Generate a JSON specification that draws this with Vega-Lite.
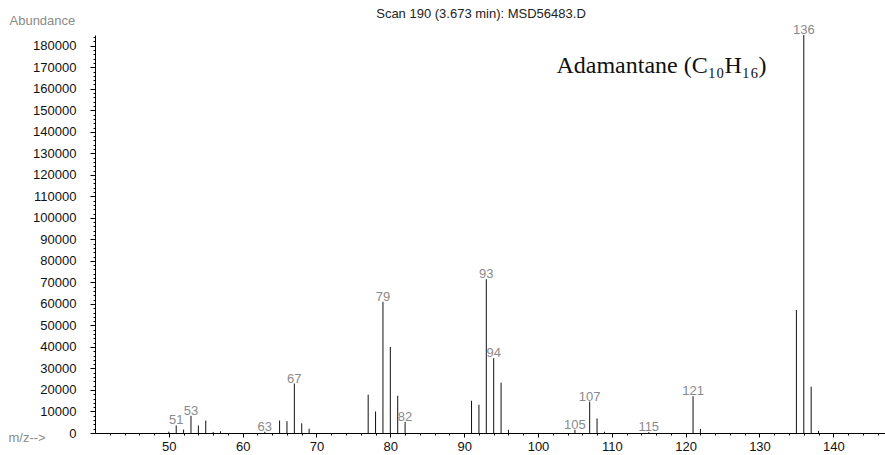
{
  "$schema": "https://vega.github.io/schema/vega-lite/v6.json",
  "width": 790,
  "height": 398,
  "autosize": {"type": "none"},
  "padding": {"left": 95, "top": 35, "right": 0, "bottom": 22},
  "background": "white",
  "config": {"view": {"stroke": null}, "font": "Liberation Sans"},
  "title": {
    "text": "Scan 190 (3.673 min): MSD56483.D",
    "frame": "group",
    "anchor": "middle",
    "orient": "top",
    "baseline": "alphabetic",
    "offset": -17,
    "dx": -9,
    "fontSize": 13,
    "fontWeight": "normal",
    "font": "Liberation Sans",
    "color": "#222222"
  },
  "datasets": {
    "peaks": [
      {"mz": 50, "abundance": 600, "label": ""},
      {"mz": 51, "abundance": 3500, "label": "51"},
      {"mz": 52, "abundance": 1600, "label": ""},
      {"mz": 53, "abundance": 8000, "label": "53"},
      {"mz": 54, "abundance": 3500, "label": ""},
      {"mz": 55, "abundance": 5800, "label": ""},
      {"mz": 56, "abundance": 500, "label": ""},
      {"mz": 57, "abundance": 800, "label": ""},
      {"mz": 63, "abundance": 600, "label": "63"},
      {"mz": 65, "abundance": 5800, "label": ""},
      {"mz": 66, "abundance": 5500, "label": ""},
      {"mz": 67, "abundance": 23000, "label": "67"},
      {"mz": 68, "abundance": 4500, "label": ""},
      {"mz": 69, "abundance": 2000, "label": ""},
      {"mz": 77, "abundance": 17800, "label": ""},
      {"mz": 78, "abundance": 10000, "label": ""},
      {"mz": 79, "abundance": 61000, "label": "79"},
      {"mz": 80, "abundance": 40000, "label": ""},
      {"mz": 81, "abundance": 17300, "label": ""},
      {"mz": 82, "abundance": 5200, "label": "82"},
      {"mz": 91, "abundance": 15000, "label": ""},
      {"mz": 92, "abundance": 13100, "label": ""},
      {"mz": 93, "abundance": 71500, "label": "93"},
      {"mz": 94, "abundance": 34800, "label": "94"},
      {"mz": 95, "abundance": 23400, "label": ""},
      {"mz": 96, "abundance": 1500, "label": ""},
      {"mz": 105, "abundance": 1500, "label": "105"},
      {"mz": 107, "abundance": 14600, "label": "107"},
      {"mz": 108, "abundance": 6800, "label": ""},
      {"mz": 109, "abundance": 600, "label": ""},
      {"mz": 115, "abundance": 400, "label": "115"},
      {"mz": 121, "abundance": 17100, "label": "121"},
      {"mz": 122, "abundance": 1900, "label": ""},
      {"mz": 135, "abundance": 57200, "label": ""},
      {"mz": 136, "abundance": 185000, "label": "136"},
      {"mz": 137, "abundance": 21500, "label": ""},
      {"mz": 138, "abundance": 1000, "label": ""}
    ],
    "annotation": [
      {"mz": 102.5, "abundance": 167200, "text": "Adamantane (C₁₀H₁₆)"}
    ]
  },
  "encoding": {
    "x": {
      "field": "mz",
      "type": "quantitative",
      "scale": {"domain": [40, 147], "nice": false, "zero": false},
      "axis": {
        "title": "m/z-->",
        "titleX": -87,
        "titleY": 8,
        "titleAlign": "left",
        "titleBaseline": "alphabetic",
        "titleAnchor": null,
        "titleFontSize": 13,
        "titleFontWeight": "normal",
        "titleColor": "#8a8a8a",
        "titleFont": "Liberation Sans",
        "values": [42,44,46,48,50,52,54,56,58,60,62,64,66,68,70,72,74,76,78,80,82,84,86,88,90,92,94,96,98,100,102,104,106,108,110,112,114,116,118,120,122,124,126,128,130,132,134,136,138,140,142,144,146],
        "labelExpr": "datum.value % 10 === 0 ? datum.value : ''",
        "tickSize": {"condition": {"test": "datum.value % 10 === 0", "value": 4}, "value": 2},
        "tickColor": "#000000",
        "domainColor": "#000000",
        "labelColor": "#111111",
        "labelFontSize": 13,
        "labelFont": "Liberation Sans",
        "labelPadding": 3,
        "labelFlush": false,
        "labelOverlap": false,
        "grid": false
      }
    },
    "y": {
      "field": "abundance",
      "type": "quantitative",
      "scale": {"domain": [0, 185000], "nice": false},
      "axis": {
        "title": "Abundance",
        "titleAngle": 0,
        "titleX": -86,
        "titleY": -11,
        "titleAlign": "left",
        "titleBaseline": "alphabetic",
        "titleAnchor": null,
        "titleFontSize": 13,
        "titleFontWeight": "normal",
        "titleColor": "#8a8a8a",
        "titleFont": "Liberation Sans",
        "values": [0,2000,4000,6000,8000,10000,12000,14000,16000,18000,20000,22000,24000,26000,28000,30000,32000,34000,36000,38000,40000,42000,44000,46000,48000,50000,52000,54000,56000,58000,60000,62000,64000,66000,68000,70000,72000,74000,76000,78000,80000,82000,84000,86000,88000,90000,92000,94000,96000,98000,100000,102000,104000,106000,108000,110000,112000,114000,116000,118000,120000,122000,124000,126000,128000,130000,132000,134000,136000,138000,140000,142000,144000,146000,148000,150000,152000,154000,156000,158000,160000,162000,164000,166000,168000,170000,172000,174000,176000,178000,180000,182000,184000],
        "labelExpr": "datum.value % 10000 === 0 ? format(datum.value, 'd') : ''",
        "tickSize": {"condition": {"test": "datum.value % 10000 === 0", "value": 5}, "value": 2},
        "tickColor": "#000000",
        "domainColor": "#000000",
        "labelColor": "#111111",
        "labelFontSize": 13,
        "labelFont": "Liberation Sans",
        "labelPadding": 14,
        "labelOverlap": false,
        "labelFlush": false,
        "grid": false
      }
    }
  },
  "layer": [
    {
      "data": {"name": "peaks"},
      "mark": {"type": "rule", "color": "#111111", "strokeWidth": 1},
      "encoding": {"y2": {"datum": 0}}
    },
    {
      "data": {"name": "peaks"},
      "mark": {"type": "text", "baseline": "alphabetic", "align": "center", "dy": -1, "fontSize": 13, "font": "Liberation Sans", "color": "#8a8a8a"},
      "encoding": {"text": {"field": "label"}}
    },
    {
      "data": {"name": "annotation"},
      "mark": {"type": "text", "baseline": "alphabetic", "align": "left", "fontSize": 24, "font": "Liberation Serif", "color": "#111111"},
      "encoding": {"text": {"field": "text"}}
    }
  ]
}
